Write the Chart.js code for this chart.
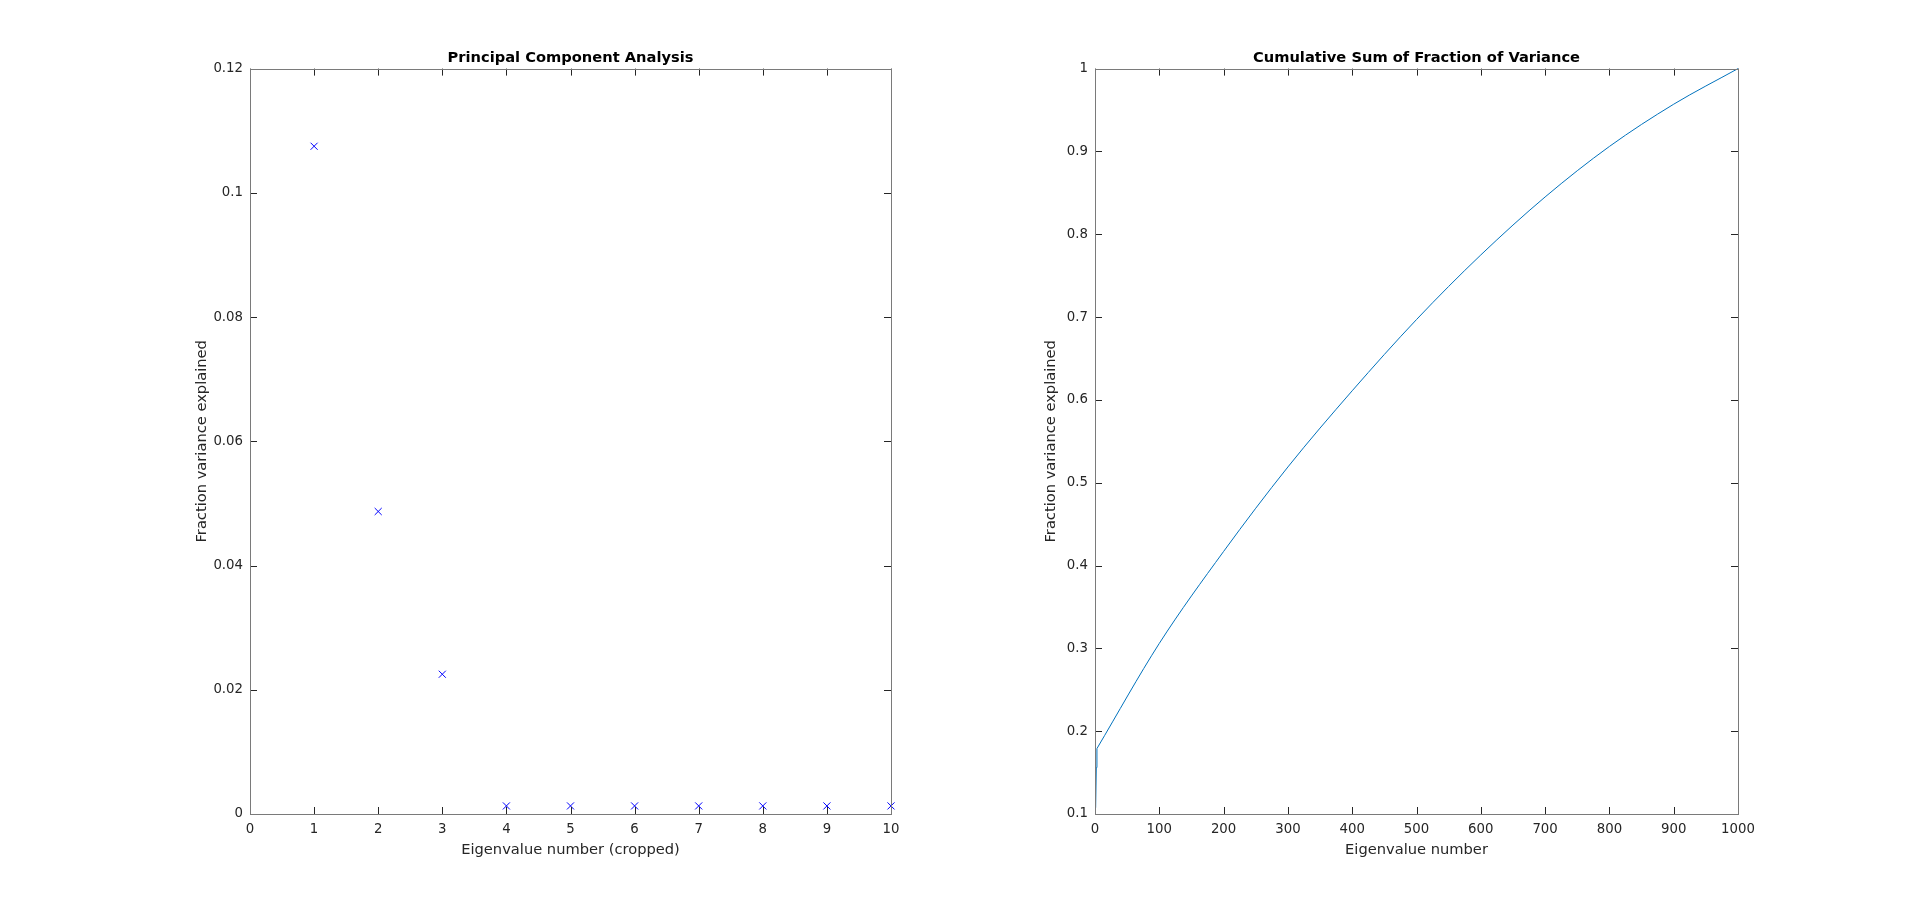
<!DOCTYPE html>
<html>
<head>
<meta charset="utf-8">
<title>PCA</title>
<script src="https://cdn.jsdelivr.net/npm/chart.js@4/dist/chart.umd.min.js"></script>
<style>
  html, body { margin: 0; padding: 0; background: #fff; }
  #wrap { position: relative; width: 1920px; height: 916px; overflow: hidden; }
  canvas { position: absolute; top: 0; }
  #c1 { left: 0; }
  #c2 { left: 960px; }
</style>
</head>
<body>
<div id="wrap">
  <canvas id="c1" width="960" height="916"></canvas>
  <canvas id="c2" width="960" height="916"></canvas>
</div>
<script>
// Données
const pcaIndex = [1, 2, 3, 4, 5, 6, 7, 8, 9, 10];
const pcaFraction = [0.1075, 0.0487, 0.0225, 0.0013, 0.0013, 0.0013, 0.0013, 0.0013, 0.0013, 0.0013];

const cumIndex = [1, 2, 3, 100, 200, 300, 400, 500, 600, 700, 800, 900, 1000];
const cumFraction = [0.1075, 0.156, 0.179, 0.306, 0.417, 0.519, 0.611, 0.697, 0.775, 0.845, 0.906, 0.957, 1.0];
const coudeIndex = 2; // fin du saut initial (composante 3)

const leftXTicks = [0, 10, 1];      // min, max, pas
const leftYTicks = [0, 0.12, 0.02];
const rightXTicks = [0, 1000, 100];
const rightYTicks = [0.1, 1, 0.1];

const TICK_FONT = { family: "'DejaVu Sans', sans-serif", size: 13.3 };
const LABEL_FONT = { family: "'DejaVu Sans', sans-serif", size: 14.67 };
const TITLE_FONT = { family: "'DejaVu Sans', sans-serif", size: 14.67, weight: 'bold' };
const TEXT_COLOR = '#262626';

// Cadre façon MATLAB : boîte complète et graduations vers l'intérieur
const matlabAxes = {
  id: 'matlabAxes',
  afterDraw(chart) {
    const { ctx, chartArea: a, scales } = chart;
    const tl = 7;
    ctx.save();
    ctx.lineWidth = 1;
    ctx.strokeStyle = '#262626';
    ctx.beginPath();
    scales.x.ticks.forEach(t => {
      const px = Math.round(scales.x.getPixelForValue(t.value)) + 0.5;
      ctx.moveTo(px, a.bottom); ctx.lineTo(px, a.bottom - tl);
      ctx.moveTo(px, a.top); ctx.lineTo(px, a.top + tl);
    });
    scales.y.ticks.forEach(t => {
      const py = Math.round(scales.y.getPixelForValue(t.value)) + 0.5;
      ctx.moveTo(a.left, py); ctx.lineTo(a.left + tl, py);
      ctx.moveTo(a.right, py); ctx.lineTo(a.right - tl, py);
    });
    ctx.stroke();
    ctx.strokeStyle = '#7a7a7a';
    ctx.strokeRect(Math.round(a.left) + 0.5, Math.round(a.top) + 0.5,
      Math.round(a.right - a.left), Math.round(a.bottom - a.top));
    ctx.restore();
  }
};

function fmt(v) {
  return String(+Number(v).toFixed(4));
}

function makeScales(xt, yt, xTitle, yTitle, yTitlePad) {
  return {
    x: {
      type: 'linear',
      min: xt[0], max: xt[1],
      grid: { display: false, drawTicks: false },
      border: { display: false },
      ticks: {
        stepSize: xt[2], autoSkip: false, maxRotation: 0,
        padding: 8, color: TEXT_COLOR, font: TICK_FONT,
        callback: fmt
      },
      title: { display: true, text: xTitle, color: TEXT_COLOR, font: LABEL_FONT, padding: { top: 0, bottom: 5.5 } },
      afterFit: s => { s.height = 50; }
    },
    y: {
      type: 'linear',
      min: yt[0], max: yt[1],
      grid: { display: false, drawTicks: false },
      border: { display: false },
      ticks: {
        stepSize: yt[2], autoSkip: false,
        padding: 7, color: TEXT_COLOR, font: TICK_FONT,
        callback: fmt
      },
      title: { display: true, text: yTitle, color: TEXT_COLOR, font: LABEL_FONT, padding: { top: yTitlePad, bottom: 0 } },
      afterFit: s => { s.width = 70; }
    }
  };
}

function makePlugins(title) {
  return {
    legend: { display: false },
    tooltip: { enabled: false },
    title: {
      display: true, text: title, color: '#000', font: TITLE_FONT,
      fullSize: false, padding: { top: 39, bottom: 2 }
    }
  };
}

// 1. Analyse en composantes principales (nuage de croix)
new Chart(document.getElementById('c1'), {
  type: 'scatter',
  data: {
    datasets: [{
      data: pcaIndex.map((x, i) => ({ x: x, y: pcaFraction[i] })),
      pointStyle: 'crossRot',
      pointRadius: 5,
      pointBorderWidth: 1,
      borderColor: '#0000ff',
      backgroundColor: '#0000ff',
      showLine: false,
      clip: false
    }]
  },
  plugins: [matlabAxes],
  options: {
    responsive: false,
    animation: false,
    devicePixelRatio: 1,
    layout: { padding: { left: 180, right: 69, top: 10, bottom: 52 } },
    plugins: makePlugins('Principal Component Analysis'),
    scales: makeScales(leftXTicks, leftYTicks, 'Eigenvalue number (cropped)', 'Fraction variance explained', 13)
  }
});

// 2. Somme cumulée (courbe) : saut initial en segments droits, puis courbe lissée
const cumPoints = cumIndex.map((x, i) => ({ x: x, y: cumFraction[i] }));
const ligne = { showLine: true, pointRadius: 0, borderColor: '#0072BD', borderWidth: 1, clip: false };

new Chart(document.getElementById('c2'), {
  type: 'scatter',
  data: {
    datasets: [
      Object.assign({ data: cumPoints.slice(0, coudeIndex + 1), tension: 0 }, ligne),
      Object.assign({ data: cumPoints.slice(coudeIndex), cubicInterpolationMode: 'monotone' }, ligne)
    ]
  },
  plugins: [matlabAxes],
  options: {
    responsive: false,
    animation: false,
    devicePixelRatio: 1,
    layout: { padding: { left: 65, right: 182, top: 10, bottom: 52 } },
    plugins: makePlugins('Cumulative Sum of Fraction of Variance'),
    scales: makeScales(rightXTicks, rightYTicks, 'Eigenvalue number', 'Fraction variance explained', 17)
  }
});
</script>
</body>
</html>
